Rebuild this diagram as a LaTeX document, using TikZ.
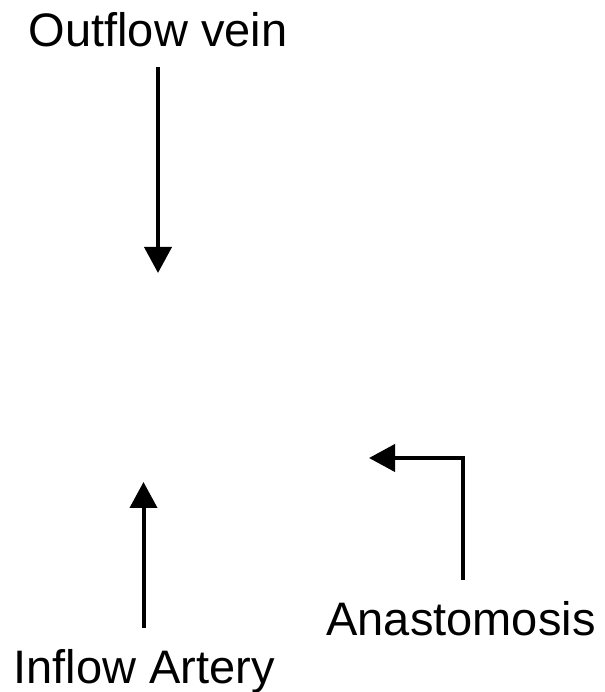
\documentclass[tikz,border=0pt]{standalone}
\usepackage{fontspec}
\setmainfont{Liberation Sans}
\usetikzlibrary{arrows.meta}

\begin{document}
\begin{tikzpicture}[x=1pt, y=1pt,
    vessel/.style={font=\fontsize{47}{56}\selectfont, inner sep=0pt, anchor=base},
    flow/.style={line width=4pt, -{Triangle[length=26pt, width=27pt]}}]
    \useasboundingbox (0,0) rectangle (604,692);
    % vessel labels
    \node[vessel] (outflow) at (158,645) {Outflow vein};
    \node[vessel] (inflow) at (144,9) {Inflow Artery};
    \node[vessel] (anast) at (461,56) {Anastomosis};
    % arrow ends
    \coordinate (veinstart) at (158,625);
    \coordinate (veintip) at (158,419);
    \coordinate (arterystart) at (143.5,64);
    \coordinate (arterytip) at (143.5,210);
    \coordinate (anaststart) at (463,112);
    \coordinate (anasttip) at (369,234);
    % flow directions
    \draw[flow] (veinstart) -- (veintip);
    \draw[flow] (arterystart) -- (arterytip);
    \draw[flow] (anaststart) |- (anasttip);
\end{tikzpicture}
\end{document}
